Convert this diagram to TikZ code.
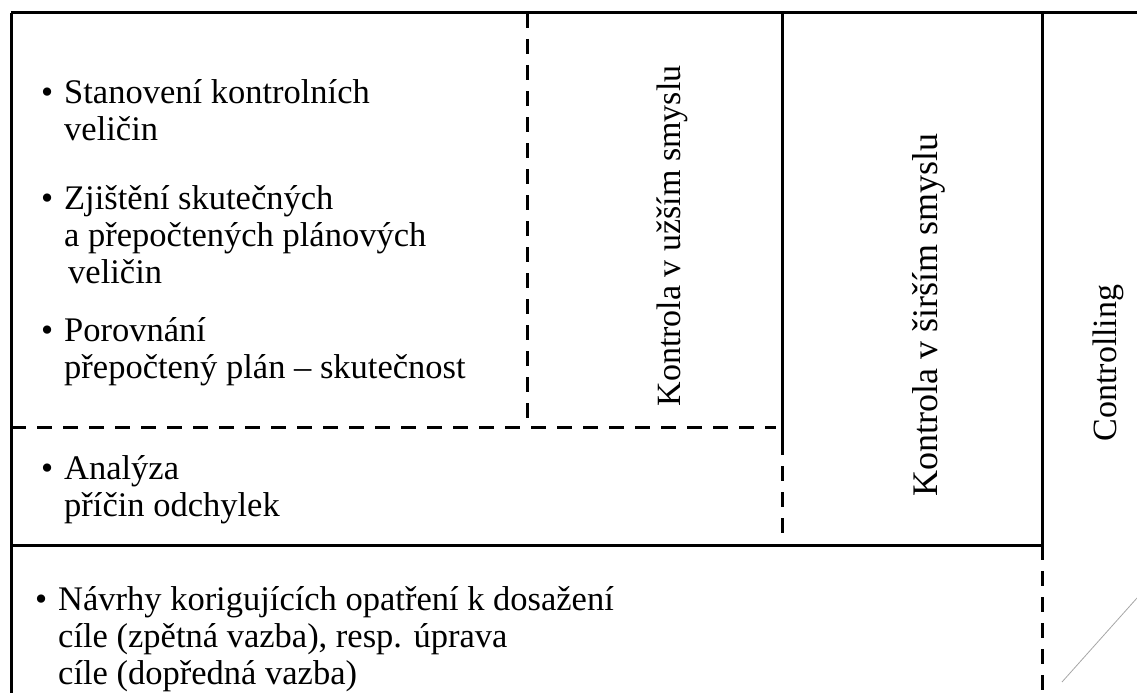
\documentclass[tikz,border=0pt]{standalone}
\usepackage{fontspec}
\setmainfont{Liberation Serif}
\begin{document}
\begin{tikzpicture}[x=1pt,y=-1pt,
  frame/.style={line width=3pt,black},
  dashline/.style={line width=3pt,black,dash pattern=on 15pt off 11pt},
  item/.style={anchor=base west,align=left,inner sep=0pt,font=\fontsize{34.5}{37}\selectfont},
  vlabel/.style={rotate=90,anchor=center,inner sep=0pt,font=\fontsize{34}{37}\selectfont}]
\useasboundingbox (0,0) rectangle (1137,693);
% coordinates
\coordinate (tl) at (11,13);
\coordinate (tr) at (1137,13);
\coordinate (bl) at (11,693);
\coordinate (a1) at (527,13);
\coordinate (a2) at (527,427);
\coordinate (h1) at (11,427);
\coordinate (h2) at (776,427);
\coordinate (b1) at (782,13);
\coordinate (b2) at (782,440);
\coordinate (b3) at (782,545);
\coordinate (m1) at (11,545);
\coordinate (c1) at (1042,13);
\coordinate (c2) at (1042,545);
\coordinate (c3) at (1042,693);
\coordinate (d1) at (1062,682);
\coordinate (d2) at (1137,598);
% frame lines
\draw[frame] (tl) -- (tr);
\draw[frame] (tl) -- (bl);
\draw[frame] (b1) -- (b2);
\draw[frame] (m1) -- (c2);
\draw[frame] (c1) -- (c2);
% dashed lines
\draw[dashline] (a1) -- (a2);
\draw[dashline] (h1) -- (h2);
\draw[dashline] (b2) -- (b3);
\draw[dashline] (c2) -- (c3);
% faint diagonal
\draw[gray!70,line width=0.8pt] (d1) -- (d2);
% items (anchor = baseline of last line)
\node[item] (i1) at (64,140) {\llap{\textbullet\hspace{11pt}}Stanovení kontrolních\\veličin};
\node[item] (i2) at (64,283) {\llap{\textbullet\hspace{11pt}}Zjištění skutečných\\a přepočtených plánových\\\hspace{4pt}veličin};
\node[item] (i3) at (64,378) {\llap{\textbullet\hspace{11pt}}Porovnání\\přepočtený plán – skutečnost};
\node[item] (i4) at (64,516) {\llap{\textbullet\hspace{11pt}}Analýza\\příčin odchylek};
\node[item] (i5) at (58,684) {\llap{\textbullet\hspace{11pt}}Návrhy korigujících opatření k dosažení\\cíle (zpětná vazba), resp. úprava\\cíle (dopředná vazba)};
% vertical labels
\node[vlabel] (k1) at (672,236) {Kontrola v užším smyslu};
\node[vlabel,font=\fontsize{36}{38}\selectfont] (k2) at (929,315) {Kontrola v širším smyslu};
\node[vlabel] (k3) at (1108,363) {Controlling};
\end{tikzpicture}
\end{document}
